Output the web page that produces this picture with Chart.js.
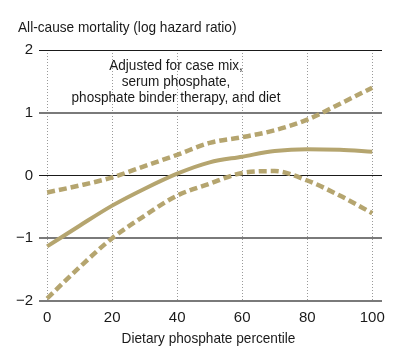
<!DOCTYPE html>
<html>
<head>
<meta charset="utf-8">
<script src="https://cdn.jsdelivr.net/npm/chart.js@4"></script>
<style>
  html, body { margin: 0; padding: 0; background: #fff; }
  #wrap { width: 400px; height: 362px; position: relative; }
</style>
</head>
<body>
<div id="wrap"><canvas id="mortalityChart"></canvas></div>
<script>
const percentiles = [0, 10, 20, 30, 40, 50, 60, 70, 80, 90, 100];
const estimate = [-1.13, -0.80, -0.48, -0.21, 0.03, 0.21, 0.30, 0.39, 0.42, 0.41, 0.38];
const upperCI = [-0.27, -0.16, -0.03, 0.15, 0.33, 0.52, 0.61, 0.72, 0.89, 1.14, 1.40];
const lowerCI = [-1.96, -1.46, -1.00, -0.64, -0.32, -0.13, 0.04, 0.07, -0.08, -0.32, -0.60];
const xTicks = [0, 20, 40, 60, 80, 100];
const yTicks = [-2, -1, 0, 1, 2];
const noteLines = ['Adjusted for case mix,', 'serum phosphate,', 'phosphate binder therapy, and diet'];

const FONT = '"Liberation Sans", Arial, sans-serif';
const TAN = '#b5a56f';

function pts(ys){ return percentiles.map((x, i) => ({x: x, y: ys[i]})); }

// the original uses a condensed face; squeeze regular text horizontally
function narrowText(c, txt, x, y, sx){
  c.save();
  c.translate(x, y);
  c.scale(sx, 1);
  c.fillText(txt, 0, 0);
  c.restore();
}

const textPlugin = {
  id: 'texts',
  afterDraw(chart){
    const c = chart.ctx;
    const a = chart.chartArea;
    c.save();
    c.fillStyle = '#1a1a1a';
    c.textBaseline = 'middle';
    c.font = '15px ' + FONT;
    c.textAlign = 'left';
    narrowText(c, 'All-cause mortality (log hazard ratio)', 18, 28, 0.91);
    c.textAlign = 'center';
    narrowText(c, 'Dietary phosphate percentile', 208.5, 339, 0.91);
    c.font = '14px ' + FONT;
    noteLines.forEach((t, i) => narrowText(c, t, 176, 66 + i * 16, 0.97));
    c.restore();
  }
};

new Chart(document.getElementById('mortalityChart'), {
  type: 'line',
  data: {
    datasets: [
      { data: pts(upperCI), borderColor: TAN, borderWidth: 4.5, borderDash: [8, 4], pointRadius: 0, fill: false, cubicInterpolationMode: 'monotone' },
      { data: pts(lowerCI), borderColor: TAN, borderWidth: 4.5, borderDash: [8, 4], pointRadius: 0, fill: false, cubicInterpolationMode: 'monotone' },
      { data: pts(estimate), borderColor: TAN, borderWidth: 4, pointRadius: 0, fill: false, cubicInterpolationMode: 'monotone' }
    ]
  },
  options: {
    responsive: true,
    maintainAspectRatio: false,
    animation: false,
    layout: { padding: { top: 50, right: 18, left: 0, bottom: 0 } },
    plugins: { legend: { display: false }, tooltip: { enabled: false } },
    scales: {
      x: {
        type: 'linear',
        min: -2.5,
        max: 103,
        afterBuildTicks: s => { s.ticks = xTicks.map(v => ({value: v})); },
        afterFit: s => { s.height = 61; },
        border: { display: false, dash: [1, 2] },
        grid: { color: '#9a9a9a', lineWidth: 1, drawTicks: false },
        ticks: { padding: 8, color: '#1a1a1a', font: { family: FONT, size: 15 }, maxRotation: 0 }
      },
      y: {
        min: -2,
        max: 2,
        afterBuildTicks: s => { s.ticks = yTicks.map(v => ({value: v})); },
        afterFit: s => { s.width = 39; },
        border: { display: false },
        grid: {
          drawTicks: false,
          color: ctx => (ctx.tick && (ctx.tick.value === 0 || ctx.tick.value === 2)) ? '#1a1a1a' : '#7a7a7a',
          lineWidth: ctx => (ctx.tick && (ctx.tick.value === 0 || ctx.tick.value === 2)) ? 1 : 2
        },
        ticks: {
          padding: 6,
          color: '#1a1a1a',
          font: { family: FONT, size: 15 },
          callback: v => v < 0 ? '\u2212' + Math.abs(v) : String(v)
        }
      }
    }
  },
  plugins: [textPlugin]
});
</script>
</body>
</html>
